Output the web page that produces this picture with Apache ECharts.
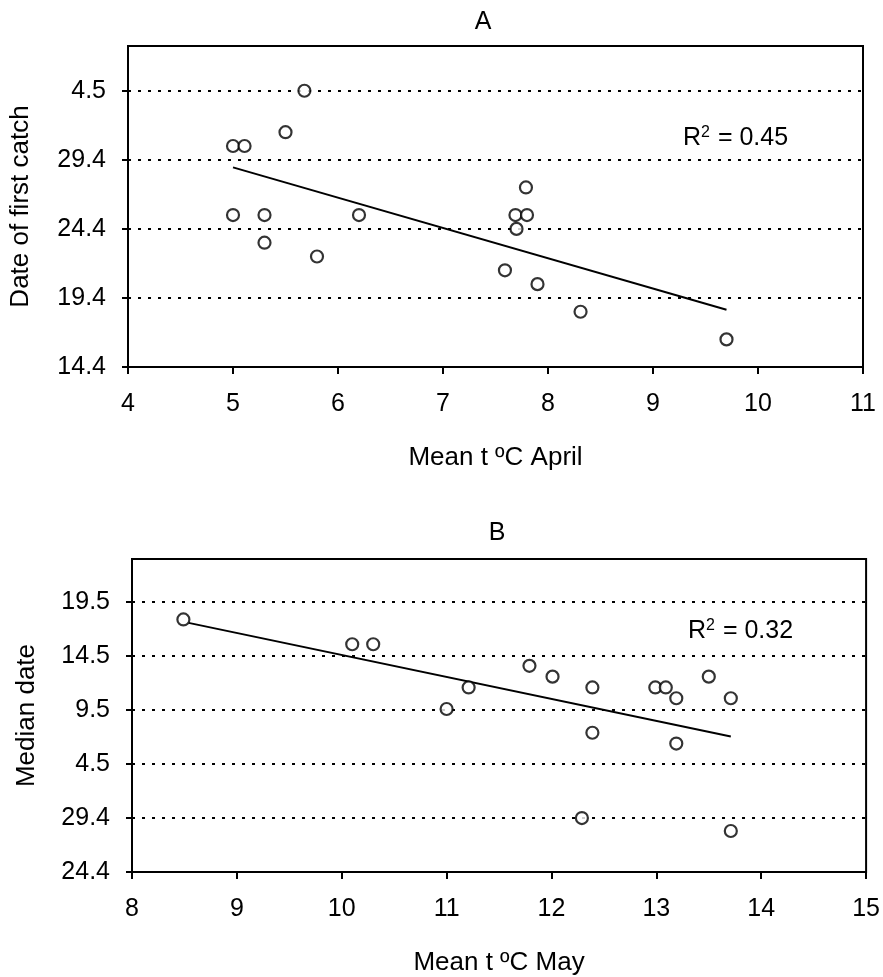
<!DOCTYPE html>
<html>
<head>
<meta charset="utf-8">
<script src="https://cdn.jsdelivr.net/npm/echarts@6/dist/echarts.min.js"></script>
<style>
  html, body { margin: 0; padding: 0; background: #fff; }
  #main { width: 883px; height: 977px; }
</style>
</head>
<body>
<div id="main"></div>
<script>
// dates are written as day of April (May days continue: 4 May = 34)
var aTemp = [5.68, 5.5, 5.0, 5.11, 5.0, 5.3, 5.3, 5.8, 6.2, 7.79, 7.69, 7.8, 7.7, 7.59, 7.9, 8.31, 9.7];
var aDate = [34, 31, 30, 30, 25, 25, 23, 22, 25, 27, 25, 25, 24, 21, 20, 18, 16];
var aTrendX = [5.0, 9.7];
var aTrendY = [28.45, 18.15];
var aTicks = ['14.4', '19.4', '24.4', '29.4', '4.5'];

var bTemp = [8.49, 10.1, 10.3, 11.0, 11.21, 11.79, 12.01, 12.39, 12.39, 12.29, 12.99, 13.09, 13.19, 13.19, 13.5, 13.71, 13.71];
var bDate = [47.4, 45.1, 45.1, 39.1, 41.1, 43.1, 42.1, 41.1, 36.9, 29, 41.1, 41.1, 40.1, 35.9, 42.1, 40.1, 27.8];
var bTrendX = [8.54, 13.71];
var bTrendY = [47.08, 36.56];
var bTicks = ['24.4', '29.4', '4.5', '9.5', '14.5', '19.5'];

// shift so the tick values are multiples of 5
var OFF = 4;
function pts(xs, ys) {
    return xs.map(function (x, i) { return [x, ys[i] - OFF]; });
}

var font = 'Liberation Sans, Arial, sans-serif';
var myChart = echarts.init(document.getElementById('main'));

function yAx(idx, min, max, labels, name, gap) {
    return {
        gridIndex: idx, type: 'value', min: min - OFF, max: max - OFF, interval: 5,
        name: name, nameLocation: 'middle', nameGap: gap,
        nameTextStyle: { color: '#000', fontSize: 26, fontFamily: font },
        axisLine: { show: true, lineStyle: { color: '#000', width: 2 } },
        axisTick: { show: true, length: 6, lineStyle: { color: '#000', width: 2 } },
        axisLabel: {
            color: '#000', fontSize: 25, fontFamily: font, margin: 22,
            showMaxLabel: false,
            formatter: function (v) {
                var k = Math.round((v - (min - OFF)) / 5);
                if (Math.abs(v - (min - OFF) - k * 5) > 0.01) return '';
                return labels[k] || '';
            }
        },
        splitLine: { show: true, showMinLine: false, showMaxLine: false,
            lineStyle: { color: '#000', width: 2, type: [3, 7] } }
    };
}
function xAx(idx, min, max, name) {
    return {
        gridIndex: idx, type: 'value', min: min, max: max, interval: 1,
        name: name, nameLocation: 'middle', nameGap: 78,
        nameTextStyle: { color: '#000', fontSize: 26, fontFamily: font },
        axisLine: { show: true, lineStyle: { color: '#000', width: 2 } },
        axisTick: { show: true, length: 7, lineStyle: { color: '#000', width: 2 } },
        axisLabel: { color: '#000', fontSize: 25, fontFamily: font, margin: 25 },
        splitLine: { show: false }
    };
}

var dotStyle = { color: '#fff', borderColor: '#000', borderWidth: 2.2 };
var rich = {
    r: { fontSize: 25, fontFamily: font, fill: '#000', verticalAlign: 'bottom' },
    s: { fontSize: 16, fontFamily: font, fill: '#000', verticalAlign: 'top', padding: [0, 1, 10, 0] }
};

myChart.setOption({
    backgroundColor: '#fff',
    animation: false,
    title: [
        { text: 'A', left: 478, top: 5, textAlign: 'center',
          textStyle: { fontSize: 25, fontWeight: 'normal', color: '#000', fontFamily: font } },
        { text: 'B', left: 492, top: 516, textAlign: 'center',
          textStyle: { fontSize: 25, fontWeight: 'normal', color: '#000', fontFamily: font } }
    ],
    grid: [
        { left: 126, right: 20, top: 46, bottom: 610, show: true, borderColor: '#000', borderWidth: 2, backgroundColor: 'transparent' },
        { left: 132, right: 16, top: 559, bottom: 104, show: true, borderColor: '#000', borderWidth: 2, backgroundColor: 'transparent' }
    ],
    xAxis: [xAx(0, 4, 11, 'Mean t ºC April'), xAx(1, 8, 15, 'Mean t ºC May')],
    yAxis: [yAx(0, 14, 37.24, aTicks, 'Date of first catch', 94),
            yAx(1, 24, 53, bTicks, 'Median date', 92)],
    graphic: [
        { type: 'text', left: 683, top: 125, style: { text: '{r|R}{s|2}{r| = 0.45}', rich: rich } },
        { type: 'text', left: 688, top: 618, style: { text: '{r|R}{s|2}{r| = 0.32}', rich: rich } }
    ],
    series: [
        { type: 'line', xAxisIndex: 0, yAxisIndex: 0, data: pts(aTrendX, aTrendY), showSymbol: false,
          lineStyle: { color: '#000', width: 2 }, z: 2 },
        { type: 'scatter', xAxisIndex: 0, yAxisIndex: 0, data: pts(aTemp, aDate), symbol: 'circle',
          symbolSize: 12, itemStyle: dotStyle, z: 3 },
        { type: 'line', xAxisIndex: 1, yAxisIndex: 1, data: pts(bTrendX, bTrendY), showSymbol: false,
          lineStyle: { color: '#000', width: 2 }, z: 2 },
        { type: 'scatter', xAxisIndex: 1, yAxisIndex: 1, data: pts(bTemp, bDate), symbol: 'circle',
          symbolSize: 12, itemStyle: dotStyle, z: 3 }
    ]
});
</script>
</body>
</html>
